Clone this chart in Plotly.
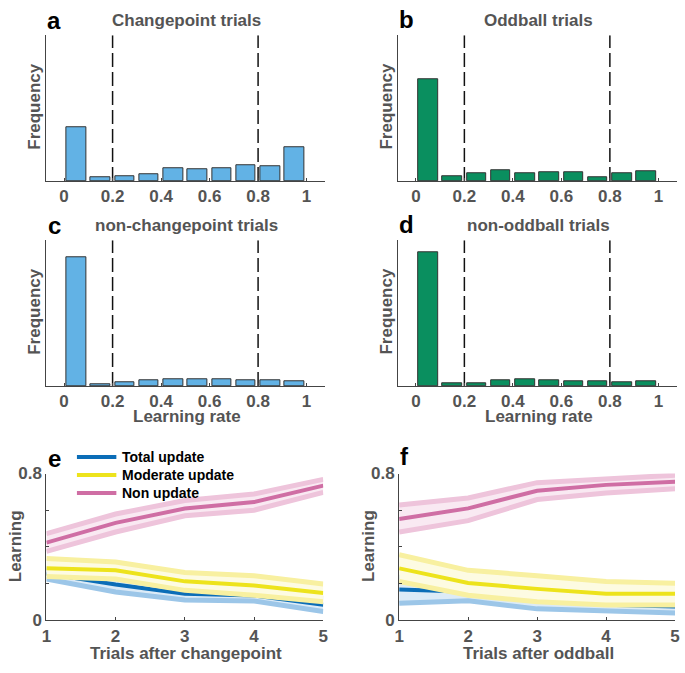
"""Learning-rate histograms and learning curves after changepoints / oddballs."""

import plotly.graph_objects as go

W, H = 685, 673

# histogram bins of learning rate
bin_centers = [0.05, 0.15, 0.25, 0.35, 0.45, 0.55, 0.65, 0.75, 0.85, 0.95]
lr_ticks = [0, 0.2, 0.4, 0.6, 0.8, 1]
lr_ticktext = ["0", "0.2", "0.4", "0.6", "0.8", "1"]
bounds = [0.2, 0.8]

# relative frequencies (arbitrary units, axis top = 1)
freq_cp = [0.369, 0.025, 0.031, 0.045, 0.085, 0.080, 0.091, 0.111, 0.102, 0.235]
freq_odd = [0.695, 0.033, 0.051, 0.071, 0.051, 0.058, 0.058, 0.029, 0.051, 0.067]
freq_noncp = [0.882, 0.011, 0.024, 0.038, 0.047, 0.047, 0.047, 0.040, 0.040, 0.033]
freq_nonodd = [0.915, 0.016, 0.022, 0.040, 0.049, 0.040, 0.033, 0.031, 0.029, 0.031]

# learning after changepoint (panel e)
trials = [1, 2, 3, 4, 5]
e_tot = [0.255, 0.195, 0.145, 0.135, 0.085]
e_tot_hi = [0.285, 0.235, 0.180, 0.165, 0.120]
e_tot_lo = [0.225, 0.154, 0.110, 0.105, 0.048]
e_mod = [0.283, 0.272, 0.212, 0.189, 0.149]
e_mod_hi = [0.336, 0.317, 0.260, 0.243, 0.198]
e_mod_lo = [0.239, 0.225, 0.163, 0.136, 0.101]
e_non = [0.423, 0.531, 0.609, 0.644, 0.734]
e_non_hi = [0.472, 0.579, 0.653, 0.688, 0.768]
e_non_lo = [0.375, 0.481, 0.570, 0.600, 0.697]

# learning after oddball (panel f)
f_tot = [0.168, 0.155, 0.105, 0.085, 0.075]
f_tot_hi = [0.235, 0.200, 0.150, 0.125, 0.110]
f_tot_lo = [0.092, 0.106, 0.062, 0.048, 0.039]
f_mod = [0.283, 0.203, 0.171, 0.145, 0.145]
f_mod_hi = [0.357, 0.272, 0.243, 0.211, 0.202]
f_mod_lo = [0.211, 0.136, 0.101, 0.083, 0.083]
f_non = [0.552, 0.610, 0.706, 0.738, 0.755]
f_non_hi = [0.628, 0.667, 0.750, 0.773, 0.791]
f_non_lo = [0.481, 0.543, 0.658, 0.694, 0.717]

FONT = "Liberation Sans, Arial, sans-serif"
GRAY = "#545454"
AXIS = "#444444"
BLUE_BAR = "#62b2e5"
GREEN_BAR = "#0a8f5f"

# (center, edge, fill)
COLORS = {
    "tot": ("#0b6db7", "#9cc6e8", "#dcebf7"),
    "mod": ("#ede31c", "#f8f0a0", "#fdfbe2"),
    "non": ("#cf6ea4", "#eec4db", "#f9e9f2"),
}
names = {"tot": "Total update", "mod": "Moderate update", "non": "Non update"}


def px(x):
    # pixel -> paper x
    return x / W


def py(y):
    # pixel -> paper y
    return 1 - y / H


fig = go.Figure()

# panel boxes in pixels: (x0, x1, y_top, y_bottom)
panels = {
    "a": (42, 325, 27, 177),
    "b": (399, 682, 27, 177),
    "c": (42, 325, 238, 388),
    "d": (399, 682, 238, 388),
    "e": (42, 323, 478, 629),
    "f": (400, 680, 478, 629),
}

hist_specs = [
    ("a", freq_cp, BLUE_BAR, "Changepoint trials"),
    ("b", freq_odd, GREEN_BAR, "Oddball trials"),
    ("c", freq_noncp, BLUE_BAR, "non-changepoint trials"),
    ("d", freq_nonodd, GREEN_BAR, "non-oddball trials"),
]

axis_font = dict(family=FONT, size=17, color=GRAY, weight="bold")


def text(s, x, y, font=axis_font, angle=0):
    fig.add_annotation(
        text=s, x=px(x), y=py(y), xref="paper", yref="paper",
        showarrow=False, font=font, textangle=angle,
        xanchor="center", yanchor="middle",
    )


for i, (key, freq, color, title) in enumerate(hist_specs):
    n = i + 1
    xa = "x" if n == 1 else f"x{n}"
    ya = "y" if n == 1 else f"y{n}"
    x0, x1, yt, yb = panels[key]
    fig.add_trace(go.Bar(
        x=bin_centers, y=freq, width=0.08,
        marker=dict(color=color, line=dict(color="#333333", width=1)),
        xaxis=xa, yaxis=ya, showlegend=False, hoverinfo="skip",
    ))
    for b in bounds:
        fig.add_trace(go.Scatter(
            x=[b, b], y=[0, 1], mode="lines",
            line=dict(color="#111111", width=1.5, dash="14px,5px"),
            xaxis=xa, yaxis=ya, showlegend=False, hoverinfo="skip",
        ))
    sfx = "" if n == 1 else str(n)
    fig.layout["xaxis" + sfx] = dict(
        domain=[px(x0), px(x1)], anchor=ya, range=[-0.073, 1.077],
        tickvals=lr_ticks, ticktext=lr_ticktext, ticks="inside", ticklen=3,
        tickcolor=AXIS, showline=True, linecolor=AXIS, linewidth=1,
        showgrid=False, zeroline=False, tickfont=axis_font,
        fixedrange=True,
    )
    fig.layout["yaxis" + sfx] = dict(
        domain=[py(yb), py(yt)], anchor=xa, range=[0, 1],
        showticklabels=False, ticks="", showline=True, linecolor=AXIS,
        linewidth=1, showgrid=False, zeroline=False, fixedrange=True,
    )
    text(title, (x0 + x1) / 2 + 1, yt - 15)
    text("Frequency", x0 - 12, (yt + yb) / 2 - 2, angle=-90)

curve_specs = [
    ("e", 5, "Trials after changepoint",
     [("tot", e_tot, e_tot_lo, e_tot_hi), ("mod", e_mod, e_mod_lo, e_mod_hi),
      ("non", e_non, e_non_lo, e_non_hi)]),
    ("f", 6, "Trials after oddball",
     [("tot", f_tot, f_tot_lo, f_tot_hi), ("mod", f_mod, f_mod_lo, f_mod_hi),
      ("non", f_non, f_non_lo, f_non_hi)]),
]

for key, n, xtitle, groups in curve_specs:
    xa, ya = f"x{n}", f"y{n}"
    x0, x1, yt, yb = panels[key]
    for g, mean, lo, hi in groups:
        c_mean, c_edge, c_fill = COLORS[g]
        fig.add_trace(go.Scatter(
            x=trials + trials[::-1], y=hi + lo[::-1], fill="toself",
            fillcolor=c_fill, mode="lines", line=dict(width=0),
            xaxis=xa, yaxis=ya, showlegend=False, hoverinfo="skip",
        ))
        for edge in (lo, hi):
            fig.add_trace(go.Scatter(
                x=trials, y=edge, mode="lines",
                line=dict(color=c_edge, width=5),
                xaxis=xa, yaxis=ya, showlegend=False, hoverinfo="skip",
            ))
        fig.add_trace(go.Scatter(
            x=trials, y=mean, mode="lines", name=names[g],
            line=dict(color=c_mean, width=4),
            xaxis=xa, yaxis=ya, showlegend=False,
        ))
    fig.layout[f"xaxis{n}"] = dict(
        domain=[px(x0), px(x1)], anchor=ya, range=[1, 5],
        tickvals=trials, ticks="inside", ticklen=3, tickcolor=AXIS,
        showline=True, linecolor=AXIS, linewidth=1, showgrid=False,
        zeroline=False, tickfont=axis_font, fixedrange=True,
    )
    fig.layout[f"yaxis{n}"] = dict(
        domain=[py(yb), py(yt)], anchor=xa, range=[0, 0.8],
        tickvals=[0, 0.2, 0.4, 0.6, 0.8], ticktext=["0", "", "", "", "0.8"],
        ticks="inside", ticklen=3, tickcolor=AXIS, showline=True,
        linecolor=AXIS, linewidth=1, showgrid=False, zeroline=False,
        tickfont=axis_font, fixedrange=True,
    )
    text(xtitle, (x0 + x1) / 2 + 1, 663)
    text("Learning", x0 - 31, 553, angle=-90)

# shared x titles of histograms
for key in ("c", "d"):
    x0, x1, yt, yb = panels[key]
    text("Learning rate", (x0 + x1) / 2 + 1, 419)

# panel letters
letter_font = dict(family=FONT, size=24, color="black", weight="bold")
letters = {"a": (50, 12), "b": (407, 11), "c": (50, 223), "d": (407, 222),
           "e": (50, 463), "f": (405, 461)}
for k, (lx, ly) in letters.items():
    text(k, lx, ly, font=letter_font)

# legend of panel e: short line keys plus labels
legend_font = dict(family=FONT, size=14, color="black", weight="bold")
for j, g in enumerate(("tot", "mod", "non")):
    ly = 461 + j * 18.5
    fig.add_shape(
        type="line", xref="paper", yref="paper",
        x0=px(73), x1=px(113), y0=py(ly), y1=py(ly),
        line=dict(color=COLORS[g][0], width=4),
    )
    fig.add_annotation(
        text=names[g], x=px(117), y=py(ly), xref="paper", yref="paper",
        showarrow=False, font=legend_font, xanchor="left", yanchor="middle",
    )

fig.update_layout(
    width=W, height=H,
    margin=dict(l=0, r=0, t=0, b=0),
    paper_bgcolor="white", plot_bgcolor="white",
    bargap=0, showlegend=False,
)

# drop the default page margin so the figure fills the window exactly
fig.write_html(
    "out.html",
    config={"displayModeBar": False},
    post_script="document.body.style.margin='0';"
                "document.body.style.overflow='hidden';",
)
